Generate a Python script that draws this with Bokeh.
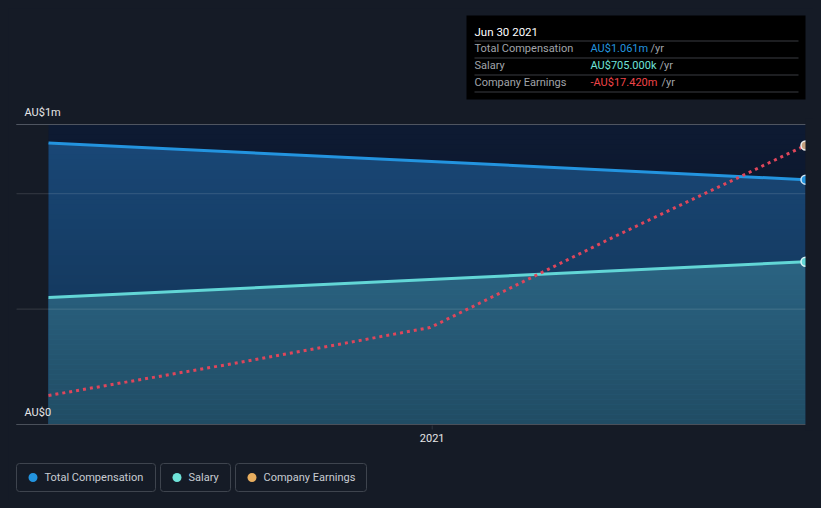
from datetime import datetime
from bokeh.plotting import figure
from bokeh.models import ColumnDataSource, Range1d, BoxAnnotation, Label
from bokeh.embed import file_html
from bokeh.resources import INLINE

# ---------------- data ----------------
comp_dates = [datetime(2020, 6, 30), datetime(2021, 6, 30)]
total_compensation = [1_220_000, 1_061_000]
salary = [550_000, 705_000]

earn_dates = [datetime(2020, 6, 30), datetime(2020, 9, 30), datetime(2020, 12, 31),
              datetime(2021, 3, 31), datetime(2021, 6, 30)]
company_earnings = [-1_810_000, -3_870_000, -6_050_000, -11_800_000, -17_420_000]
earnings_axis_top = -18_730_000

y_tick_values = [0, 1_300_000]
y_tick_labels = ["AU$0", "AU$1m"]
x_tick_dates = [datetime(2021, 1, 1)]
x_tick_labels = ["2021"]
grid_values = [500_000, 1_000_000]

series_names = ["Total Compensation", "Salary", "Company Earnings"]
tooltip_date = "Jun 30 2021"
tooltip_values = ["AU$1.061m", "AU$705.000k", "-AU$17.420m"]

# ---------------- style / geometry ----------------
PAGE_BG = "#151b26"
FRAME_BG = "#0e1b33"
C_TOTAL = "#2394df"
C_SALARY = "#62d6d6"
C_EARN = "#df465b"
C_EARN_LEG = "#e8ae5f"
FONT = "Roboto"

FL, FR, FT, FB = 8, 813, 8, 500        # figure on the page
PL, PR, PT, PB = 48, 805, 124, 424     # plot area on the page

EPOCH = datetime(1970, 1, 1)
def ms(d):
    return (d - EPOCH).total_seconds() * 1000.0

x0, x1 = ms(comp_dates[0]), ms(comp_dates[-1])
xs = (x1 - x0) / (PR - PL)
ymax = y_tick_values[-1]
ys = ymax / (PB - PT)
es = earnings_axis_top / (PB - PT)

p = figure(width=FR - FL, height=FB - FT,
           x_range=Range1d(x0 - (PL - FL) * xs, x1 + (FR - PR) * xs),
           y_range=Range1d(-(FB - PB) * ys, ymax + (PT - FT) * ys),
           output_backend="svg", toolbar_location=None,
           x_axis_location=None, y_axis_location=None, min_border=0,
           background_fill_color=PAGE_BG, border_fill_color=PAGE_BG,
           outline_line_color=None)
p.extra_x_ranges["px"] = Range1d(FL, FR)
p.extra_y_ranges["px"] = Range1d(FB, FT)
p.extra_y_ranges["earn"] = Range1d(-(FB - PB) * es, earnings_axis_top + (PT - FT) * es)
p.xgrid.visible = False
p.ygrid.visible = False

def box(l, r, t, b, fill=None, line=None, lw=1, radius=0, level="annotation",
        falpha=1.0, lalpha=1.0):
    p.add_layout(BoxAnnotation(left=l, right=r, top=t, bottom=b,
                               x_range_name="px", y_range_name="px",
                               fill_color=fill, fill_alpha=falpha if fill else 0,
                               line_color=line, line_alpha=lalpha if line else 0,
                               line_width=lw, border_radius=radius, level=level))

def label(x, y, text, color, size="11px", align="left", xr="px"):
    p.add_layout(Label(x=x, y=y, x_range_name=xr, y_range_name="px", text=text,
                       text_font=FONT, text_font_size=size, text_color=color,
                       text_baseline="middle", text_align=align))

# plot area background (lowest level)
box(PL, PR, PT, PB, fill=FRAME_BG, level="image")

# areas
src = ColumnDataSource(dict(x=comp_dates, total=total_compensation, salary=salary))
p.varea(x="x", y1=0, y2="total", source=src, fill_color="#1a4979", fill_alpha=1,
        level="underlay")
p.varea(x="x", y1=0, y2="salary", source=src, fill_color="#33779c", fill_alpha=1,
        level="underlay")

# vertical shading of the plot area (darker towards the bottom)
n_bands = 60
band_h = (PB - PT) / n_bands
for k in range(n_bands):
    a = 0.36 * (k + 0.5) / n_bands
    box(PL, PR, PT + k * band_h, PT + (k + 1) * band_h, fill="#000000",
        falpha=a, level="glyph")

# grid / frame lines (extend left beyond plot area)
def hline(yv, color, alpha=1.0):
    p.add_layout(BoxAnnotation(left=16, right=PR, top=yv, bottom=yv, x_range_name="px",
                               fill_alpha=0, line_color=color, line_alpha=alpha,
                               line_width=1, level="glyph"))

for g in grid_values:
    hline(g, "#ffffff", 0.07)
hline(y_tick_values[0], "#4a505a")
hline(y_tick_values[-1], "#4f5560")

# lines
p.line(x="x", y="total", source=src, line_color=C_TOTAL, line_width=3, level="guide")
p.line(x="x", y="salary", source=src, line_color=C_SALARY, line_width=3, level="guide")
esrc = ColumnDataSource(dict(x=earn_dates, y=company_earnings))
p.line(x="x", y="y", source=esrc, y_range_name="earn", line_color=C_EARN,
       line_width=3, line_dash="3 4", level="guide")

# end markers
p.scatter(x=[comp_dates[-1]], y=[total_compensation[-1]], size=9, level="guide",
          fill_color=C_TOTAL, line_color="#cfe6f7", line_width=1.5)
p.scatter(x=[comp_dates[-1]], y=[salary[-1]], size=9, level="guide",
          fill_color=C_SALARY, line_color="#d8f5f5", line_width=1.5)
p.scatter(x=[earn_dates[-1]], y=[company_earnings[-1]], size=9, y_range_name="earn",
          level="guide", fill_color="#c4a07e", line_color="#eeeeee", line_width=1.5)
# clip markers at the right edge of the plot area
box(PR, FR, PT - 6, PB + 6, fill=PAGE_BG)

# x ticks
for d, t in zip(x_tick_dates, x_tick_labels):
    p.add_layout(BoxAnnotation(left=ms(d), right=ms(d), top=PB + 1, bottom=PB + 5,
                               y_range_name="px", fill_alpha=0,
                               line_color="#4a505a", line_width=1))
    label(ms(d), 437, t, "#e6e6e6", align="center", xr="default")

# y labels
for v, t in zip(y_tick_values, y_tick_labels):
    p.add_layout(Label(x=24, y=v, x_range_name="px", text=t, text_font=FONT,
                       text_font_size="11px", text_color="#e6e6e6",
                       text_baseline="middle", y_offset=12))

# tooltip
box(466, 805, 15, 99, fill="#000000")
for yy in [40, 57, 74, 91]:
    box(474, 798, yy, yy + 1, fill="#3a3d42")
label(474, 31, tooltip_date, "#ffffff", size="11.5px")
val_colors = [C_TOTAL, "#6fe3d9", "#f04448"]
unit_x = [650, 659, 661]
for i, (nm, vv) in enumerate(zip(series_names, tooltip_values)):
    yy = 48 + 17 * i
    label(474, yy, nm, "#a0a4aa")
    label(590, yy, vv, val_colors[i])
    label(unit_x[i], yy, "/yr", "#a0a4aa")

# legend
leg_boxes = [(16, 155), (160, 230), (235, 366)]
leg_colors = [C_TOTAL, "#6fe3d9", C_EARN_LEG]
for (l, r), nm, c in zip(leg_boxes, series_names, leg_colors):
    box(l, r, 463, 491, line="#3e444e", lw=1, radius=3)
    box(l + 12, l + 21, 472.5, 481.5, fill=c, radius=5)
    label(l + 28, 477, nm, "#c8ccd2", size="11px")

html = file_html(p, INLINE)
style = ("<style>html,body{margin:0 !important;padding:0;background:%s;}"
         "body{padding:8px !important;box-sizing:border-box;}</style>" % PAGE_BG)
i = html.rfind("</head>")
html = html[:i] + style + html[i:]
open("out.html", "w").write(html)
